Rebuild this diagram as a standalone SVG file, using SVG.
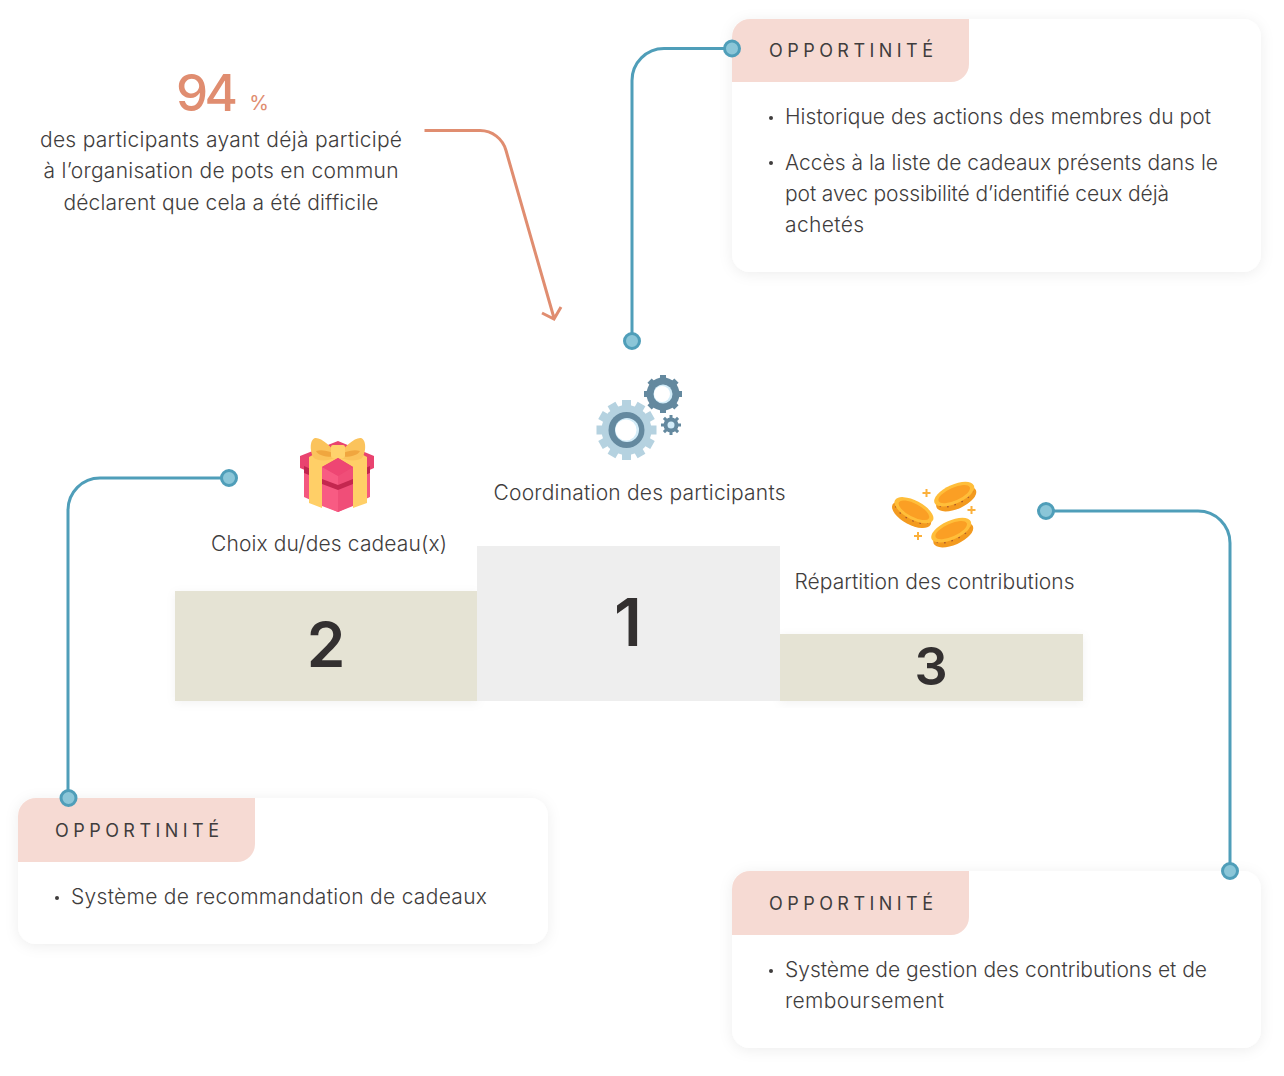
<svg xmlns="http://www.w3.org/2000/svg" width="1284" height="1076" viewBox="0 0 1284 1076">
<style>
text{font-family:"Inter","Noto Sans","Liberation Sans",sans-serif;fill:#3f3d3d}
.b{font-size:21px;font-weight:300}
.c{text-anchor:middle}
.op{font-size:18px;font-weight:400}
.card{fill:#fff;filter:url(#sh)}
.tab{fill:#f6dad3}
.ln{fill:none;stroke:#4f9eb9;stroke-width:3}
.dot{fill:#8bc6d8;stroke:#4f9eb9;stroke-width:3}
.num{font-weight:600;fill:#333030;text-anchor:middle}
.teeth{fill:none;stroke:#a9562a;stroke-width:1.500;stroke-dasharray:1.500 6}
</style>
<defs>
<filter id="sh" x="-10%" y="-15%" width="120%" height="130%"><feDropShadow dx="0" dy="2" stdDeviation="7" flood-color="#000" flood-opacity=".07"/></filter>
<filter id="sh2" x="-5%" y="-10%" width="110%" height="120%"><feDropShadow dx="0" dy="2" stdDeviation="5" flood-color="#000" flood-opacity=".05"/></filter>
</defs>
<rect width="1284" height="1076" fill="#fff"/>

<g id="stat">
<text x="207" y="111" class="c" style="font-size:51px;font-weight:500;fill:#e08d70" textLength="62">94</text>
<text x="259" y="110" class="c" style="font-size:20px;font-weight:400;fill:#e08d70">%</text>
<text x="221" y="147" class="b c" textLength="362">des participants ayant déjà participé</text>
<text x="221" y="178" class="b c" textLength="355">à l’organisation de pots en commun</text>
<text x="221" y="210" class="b c" textLength="315">déclarent que cela a été difficile</text>
</g>

<g id="podium-2"><rect x="175" y="591" width="303" height="110" fill="#e5e3d4" filter="url(#sh2)"/><text x="326" y="667" class="num" style="font-size:62px">2</text></g>
<g id="podium-3"><rect x="780" y="634" width="303" height="67" fill="#e5e3d4" filter="url(#sh2)"/><text x="931" y="685" class="num" style="font-size:52px">3</text></g>
<g id="podium-1"><rect x="477" y="546" width="303" height="155" fill="#eeeeee"/><text x="628" y="646" class="num" style="font-size:66px">1</text></g>

<g id="card-top">
<rect class="card" x="732" y="19" width="529" height="253" rx="18"/>
<path class="tab" d="M732 82V37a18 18 0 0 1 18-18H969V64a18 18 0 0 1-18 18Z"/>
<text x="769" y="57" class="op" textLength="164">OPPORTINITÉ</text>
<circle cx="771" cy="118" r="2" fill="#3f3d3d"/>
<text x="785" y="124" class="b" textLength="426">Historique des actions des membres du pot</text>
<circle cx="771" cy="163" r="2" fill="#3f3d3d"/>
<text x="785" y="170" class="b" textLength="433">Accès à la liste de cadeaux présents dans le</text>
<text x="785" y="201" class="b" textLength="384">pot avec possibilité d’identifié ceux déjà</text>
<text x="785" y="232" class="b" textLength="79">achetés</text>
</g>

<g id="card-left">
<rect class="card" x="18" y="798" width="530" height="146" rx="18"/>
<path class="tab" d="M18 862V816a18 18 0 0 1 18-18H255V844a18 18 0 0 1-18 18Z"/>
<text x="55" y="837" class="op" textLength="164">OPPORTINITÉ</text>
<circle cx="57" cy="898" r="2" fill="#3f3d3d"/>
<text x="71" y="904" class="b" textLength="416">Système de recommandation de cadeaux</text>
</g>

<g id="card-right">
<rect class="card" x="732" y="871" width="529" height="177" rx="18"/>
<path class="tab" d="M732 935V889a18 18 0 0 1 18-18H969V917a18 18 0 0 1-18 18Z"/>
<text x="769" y="910" class="op" textLength="164">OPPORTINITÉ</text>
<circle cx="771" cy="971" r="2" fill="#3f3d3d"/>
<text x="785" y="977" class="b" textLength="422">Système de gestion des contributions et de</text>
<text x="785" y="1008" class="b" textLength="159">remboursement</text>
</g>

<g id="connectors">
<path class="ln" d="M732 48.500H664a32 32 0 0 0-32 32V341"/>
<circle class="dot" cx="732" cy="48.500" r="7.500"/><circle class="dot" cx="632" cy="341" r="7.500"/>
<path class="ln" d="M229 478H100a32 32 0 0 0-32 32V798"/>
<circle class="dot" cx="229" cy="478" r="7.500"/><circle class="dot" cx="68.500" cy="798" r="7.500"/>
<path class="ln" d="M1046 511H1198a32 32 0 0 1 32 32V871"/>
<circle class="dot" cx="1046" cy="511" r="7.500"/><circle class="dot" cx="1230" cy="871" r="7.500"/>
<path d="M424.500 130.500H480a27 27 0 0 1 26 20L554 318M542 313l12 6 7-12" fill="none" stroke="#e08d70" stroke-width="3"/>
</g>

<g id="gears">
<g fill="#64899f">
<circle cx="663" cy="394" r="16.500"/>
<rect x="660" y="375" width="6" height="38"/><rect x="660" y="375" width="6" height="38" transform="rotate(45 663 394)"/><rect x="660" y="375" width="6" height="38" transform="rotate(90 663 394)"/><rect x="660" y="375" width="6" height="38" transform="rotate(135 663 394)"/>
</g>
<circle cx="663" cy="394" r="9.500" fill="#d3ecf8"/><circle cx="662" cy="394" r="8" fill="#fff"/>
<g fill="#64899f">
<circle cx="671" cy="425" r="7.500"/>
<rect x="669.500" y="415" width="3" height="20"/><rect x="669.500" y="415" width="3" height="20" transform="rotate(45 671 425)"/><rect x="669.500" y="415" width="3" height="20" transform="rotate(90 671 425)"/><rect x="669.500" y="415" width="3" height="20" transform="rotate(135 671 425)"/>
</g>
<circle cx="671" cy="425" r="3.500" fill="#d3ecf8"/>
<g fill="#b5d2e0">
<circle cx="626.500" cy="430" r="25"/>
<rect x="622" y="400" width="9" height="60"/><rect x="622" y="400" width="9" height="60" transform="rotate(30 626.500 430)"/><rect x="622" y="400" width="9" height="60" transform="rotate(60 626.500 430)"/><rect x="622" y="400" width="9" height="60" transform="rotate(90 626.500 430)"/><rect x="622" y="400" width="9" height="60" transform="rotate(120 626.500 430)"/><rect x="622" y="400" width="9" height="60" transform="rotate(150 626.500 430)"/>
</g>
<path d="M626.500 455a25 25 0 0 0 0-50a25 25 0 0 1 0 50Z" fill="#a2c3d2"/>
<circle cx="626.500" cy="430" r="18" fill="#64899f"/>
<circle cx="627" cy="430" r="12" fill="#d3ecf8"/><circle cx="626" cy="430" r="10.500" fill="#fff"/>
</g>
<text x="639.500" y="500" class="b c" textLength="292">Coordination des participants</text>

<g id="gift">
<path d="M304 468V497L338 512L370 497V468Z" fill="#f4577f"/>
<path d="M300 456L338 441L374 456V468L338 484L300 468Z" fill="#e9436f"/>
<path d="M304 466L322 474V480L304 473ZM370 466L353 474V480L370 473Z" fill="#c0244f"/>
<path d="M309 457L324 449L338 456L352 449L367 457V503L353 508V467L338 458L322 467V508L309 503Z" fill="#ffcf67"/>
<path d="M322 467L338 458L353 467L338 476Z" fill="#ee4673"/>
<path d="M322 467L338 476V512L322 506Z" fill="#f85b83"/>
<path d="M338 476L353 467V506L338 512Z" fill="#f04e78"/>
<path d="M322 479L338 485V490L322 484ZM338 485L353 479V484L338 490Z" fill="#c4274f"/>
<path d="M338 456C332 447 321 437 315 438C309 440 310 453 314 458C319 462 331 461 338 456ZM338 456C344 447 355 437 361 438C367 440 366 453 362 458C357 462 345 461 338 456Z" fill="#fbc35c"/>
<path d="M338 456C331 451 322 449 316 451C318 456 330 458 338 456ZM338 456C345 451 354 449 360 451C358 456 346 458 338 456Z" fill="#f0a63f"/>
<rect x="331" y="445" width="14" height="13" rx="2" fill="#ffd26c"/>
</g>
<text x="329" y="551" class="b c" textLength="236">Choix du/des cadeau(x)</text>

<g id="coins">
<g transform="rotate(28 913 512)"><ellipse cx="913" cy="515" rx="21.500" ry="10" fill="#f39a1f"/><path class="teeth" d="M895 515a19 7.500 0 0 0 36 0"/><ellipse cx="913" cy="510" rx="21.500" ry="9.500" fill="#ffbe3a"/><ellipse cx="913" cy="510" rx="17" ry="6.500" fill="#fb9f24"/></g>
<g transform="rotate(-24 955 496)"><ellipse cx="955" cy="499" rx="21.500" ry="10" fill="#f39a1f"/><path class="teeth" d="M937 499a19 7.500 0 0 0 36 0"/><ellipse cx="955" cy="494" rx="21.500" ry="9.500" fill="#ffbe3a"/><ellipse cx="955" cy="494" rx="17" ry="6.500" fill="#fb9f24"/></g>
<g transform="rotate(-24 952 532)"><ellipse cx="952" cy="535" rx="21.500" ry="10" fill="#f39a1f"/><path class="teeth" d="M934 535a19 7.500 0 0 0 36 0"/><ellipse cx="952" cy="530" rx="21.500" ry="9.500" fill="#ffbe3a"/><ellipse cx="952" cy="530" rx="17" ry="6.500" fill="#fb9f24"/></g>
<path d="M926.500 489v8M922.500 493h8M971.500 506v8M967.500 510h8M918 532v8M914 536h8" stroke="#fbb03b" stroke-width="2" fill="none"/>
</g>
<text x="934.500" y="589" class="b c" textLength="280">Répartition des contributions</text>
</svg>
